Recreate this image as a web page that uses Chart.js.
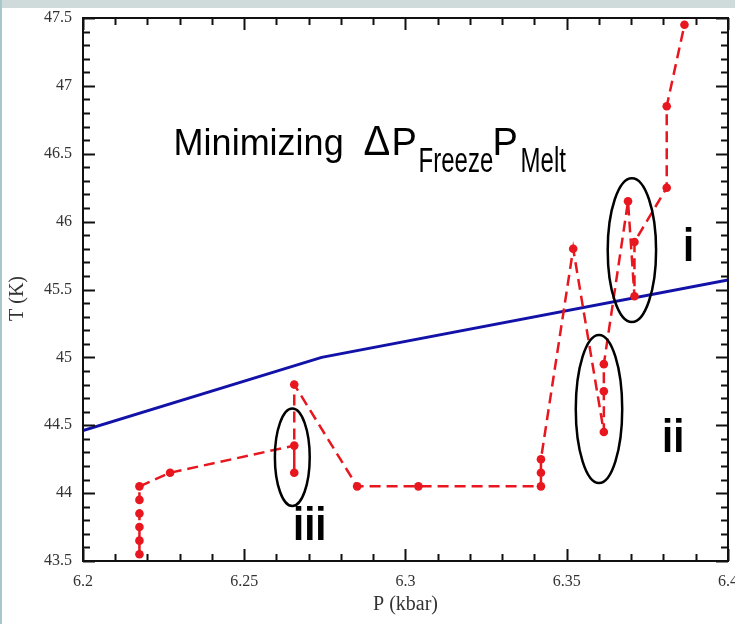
<!DOCTYPE html>
<html><head><meta charset="utf-8">
<script src="https://cdn.jsdelivr.net/npm/chart.js@4/dist/chart.umd.min.js"></script>
<style>
html,body{margin:0;padding:0;background:#fff;}
#wrap{position:relative;width:735px;height:624px;overflow:hidden;background:#fff;}
#c{position:absolute;left:0;top:0;}
.bt{position:absolute;left:0;top:0;width:735px;height:8px;background:#cfdbdb;}
.bl{position:absolute;left:0;top:0;width:2px;height:624px;background:#a9c6ca;}
</style></head><body>
<div id="wrap"><canvas id="c" width="735" height="624"></canvas><div class="bt"></div><div class="bl"></div></div>
<script>
// ---- data ----
const pressureRed = [6.2175,6.2175,6.2175,6.2175,6.2175,6.2175,6.227,6.2655,6.2655,6.2655,6.285,6.304,6.342,6.342,6.342,6.352,6.3615,6.3615,6.3615,6.369,6.371,6.371,6.381,6.381,6.3865];
const tempRed     = [43.55,43.65,43.75,43.85,43.95,44.05,44.15,44.35,44.15,44.8,44.05,44.05,44.05,44.15,44.25,45.8,44.45,44.75,44.95,46.15,45.45,45.85,46.25,46.85,47.45];
const pressureBlue = [6.2, 6.274, 6.4];
const tempBlue     = [44.46, 45.0, 45.57];
const xTickValues = [6.2, 6.25, 6.3, 6.35, 6.4];
const xTickLabels = ['6.2', '6.25', '6.3', '6.35', '6.4'];
const yTickValues = [43.5, 44, 44.5, 45, 45.5, 46, 46.5, 47, 47.5];
const yTickLabels = ['43.5', '44', '44.5', '45', '45.5', '46', '46.5', '47', '47.5'];
const yAxisTitle = 'T (K)';
const xAxisTitle = 'P (kbar)';
// annotation ellipses (data units)
const ellipseNames = ['i', 'ii', 'iii'];
const ellipseP  = [6.3702, 6.3600, 6.2649];
const ellipseT  = [45.79, 44.62, 44.264];
const ellipseRP = [0.0075, 0.0072, 0.0054];
const ellipseRT = [0.53, 0.545, 0.359];
const labelP = [6.3878, 6.3830, 6.2703];
const labelT = [45.708, 44.303, 43.658];

const RED = '#e8161e', BLUE = '#1212a8';

const overlay = {
  id: 'overlay',
  afterDatasetsDraw(chart) {
    const {ctx, chartArea: a, scales: {x, y}} = chart;
    ctx.save();
    // ellipses
    ctx.strokeStyle = '#000'; ctx.lineWidth = 2.5;
    ellipseP.forEach((p, i) => {
      const cx = x.getPixelForValue(p), cy = y.getPixelForValue(ellipseT[i]);
      const rx = x.getPixelForValue(p + ellipseRP[i]) - cx;
      const ry = cy - y.getPixelForValue(ellipseT[i] + ellipseRT[i]);
      ctx.beginPath(); ctx.ellipse(cx, cy, rx, ry, 0, 0, 2 * Math.PI); ctx.stroke();
    });
    // frame
    ctx.strokeStyle = '#111'; ctx.lineWidth = 2;
    ctx.strokeRect(a.left, a.top, a.right - a.left, a.bottom - a.top);
    // inward ticks
    ctx.lineWidth = 2;
    ctx.beginPath();
    const nx = Math.round((x.max - x.min) / 0.01);
    for (let i = 0; i <= nx; i++) {
      const px = Math.round(x.getPixelForValue(x.min + i * 0.01)) + 0.5;
      const len = i % 5 === 0 ? 12 : 7;
      ctx.moveTo(px, a.bottom); ctx.lineTo(px, a.bottom - len);
      ctx.moveTo(px, a.top); ctx.lineTo(px, a.top + len);
    }
    const ny = Math.round((y.max - y.min) / 0.1);
    for (let i = 0; i <= ny; i++) {
      const py = Math.round(y.getPixelForValue(y.min + i * 0.1)) + 0.5;
      const len = i % 5 === 0 ? 12 : 7;
      ctx.moveTo(a.left, py); ctx.lineTo(a.left + len, py);
      ctx.moveTo(a.right, py); ctx.lineTo(a.right - len, py);
    }
    ctx.stroke();
    // y axis title (rotated)
    ctx.save();
    ctx.fillStyle = '#333';
    ctx.font = '20px "Liberation Serif"';
    ctx.textAlign = 'center'; ctx.textBaseline = 'middle';
    ctx.translate(18, (a.top + a.bottom) / 2 + 9);
    ctx.rotate(-Math.PI / 2);
    ctx.fillText(yAxisTitle, 0, 0);
    ctx.restore();
    // roman numeral labels
    ctx.fillStyle = '#000';
    ctx.textAlign = 'center'; ctx.textBaseline = 'alphabetic';
    ellipseNames.forEach((t, i) => {
      const px = x.getPixelForValue(labelP[i]), py = y.getPixelForValue(labelT[i]);
      ctx.save(); ctx.translate(px, py); ctx.scale(1, 1.15);
      ctx.font = 'bold 40px "Liberation Sans"';
      ctx.fillText(t, 0, 0); ctx.restore();
    });
    // title text
    const x0 = x.getPixelForValue(6.2281), y0 = y.getPixelForValue(46.489);
    const pieces = [
      {t: 'Minimizing', dx: 0,   dy: 0,    size: 36, sy: 1.03},
      {t: '\u0394',     dx: 190, dy: 0,    size: 40, sy: 1.05},
      {t: 'P',          dx: 218, dy: 0,    size: 38, sy: 1.04},
      {t: 'Freeze',     dx: 245, dy: 16.7, size: 24, sy: 1.45},
      {t: 'P',          dx: 319, dy: 0,    size: 38, sy: 1.04},
      {t: 'Melt',       dx: 347, dy: 16.7, size: 24, sy: 1.45}
    ];
    ctx.textAlign = 'left';
    pieces.forEach(pc => {
      ctx.save(); ctx.translate(x0 + pc.dx, y0 + pc.dy); ctx.scale(1, pc.sy);
      ctx.font = pc.size + 'px "Liberation Sans"';
      ctx.fillText(pc.t, 0, 0); ctx.restore();
    });
    ctx.restore();
  }
};

new Chart(document.getElementById('c'), {
  type: 'scatter',
  data: {
    datasets: [
      {
        data: pressureRed.map((p, i) => ({x: p, y: tempRed[i]})),
        showLine: true, borderColor: RED, backgroundColor: RED,
        borderWidth: 2.5, borderDash: [11, 6], pointRadius: 4.3,
        pointBackgroundColor: RED, pointBorderWidth: 0, tension: 0
      },
      {
        data: pressureBlue.map((p, i) => ({x: p, y: tempBlue[i]})),
        showLine: true, borderColor: BLUE, borderWidth: 3, pointRadius: 0, tension: 0
      }
    ]
  },
  options: {
    responsive: false, animation: false, devicePixelRatio: 1,
    layout: {padding: {top: 18, right: 7, left: 0, bottom: 0}},
    plugins: {legend: {display: false}, tooltip: {enabled: false}},
    scales: {
      x: {
        type: 'linear', min: 6.2, max: 6.4,
        grid: {display: false, drawTicks: false},
        border: {display: false},
        afterBuildTicks: s => { s.ticks = xTickValues.map(v => ({value: v})); },
        ticks: {font: {family: 'Liberation Serif', size: 16}, color: '#333', padding: 11,
                maxRotation: 0, autoSkip: false, callback: (v, i) => xTickLabels[i]},
        afterFit: s => { s.height = 63; s.paddingLeft = 0; s.paddingRight = 0; },
        title: {display: true, text: xAxisTitle, font: {family: 'Liberation Serif', size: 20},
                color: '#333', padding: {top: 0, bottom: 7}}
      },
      y: {
        type: 'linear', min: 43.5, max: 47.5,
        grid: {display: false, drawTicks: false},
        border: {display: false},
        afterBuildTicks: s => { s.ticks = yTickValues.map(v => ({value: v})); },
        ticks: {font: {family: 'Liberation Serif', size: 16}, color: '#333', padding: 11,
                autoSkip: false, callback: (v, i) => yTickLabels[i]},
        afterFit: s => { s.width = 83; s.paddingTop = 0; s.paddingBottom = 0; },
        title: {display: false}
      }
    }
  },
  plugins: [overlay]
});
</script>
</body></html>
